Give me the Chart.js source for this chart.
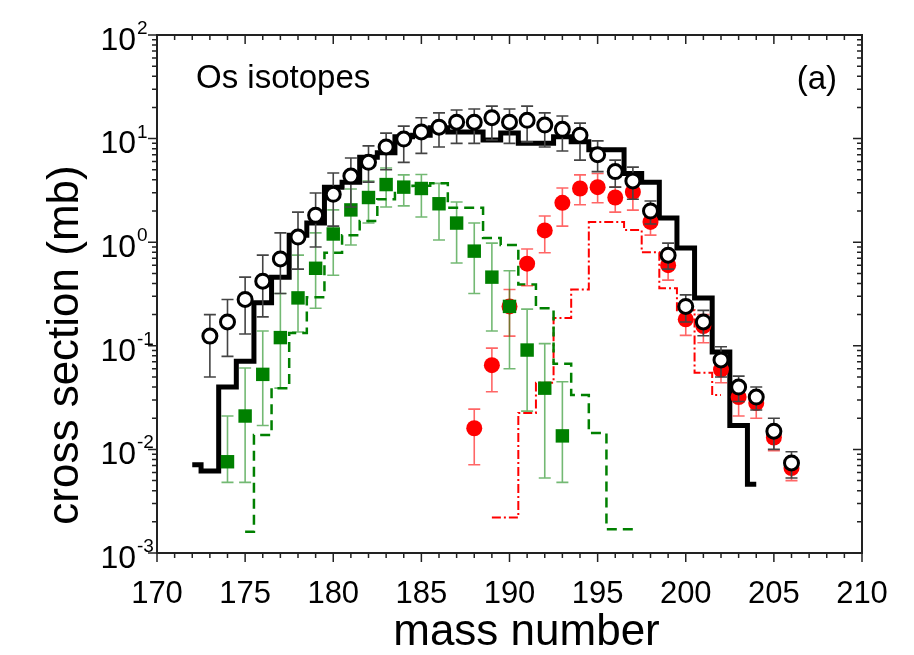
<!DOCTYPE html>
<html>
<head>
<meta charset="utf-8">
<script src="https://cdn.jsdelivr.net/npm/chart.js@4.4.1/dist/chart.umd.min.js"></script>
<style>
html,body{margin:0;padding:0;background:#fff}
#caixa{width:914px;height:655px;position:relative}
</style>
</head>
<body>
<div id="caixa"><canvas id="grafico"></canvas></div>
<script>
const FONTE = "'Liberation Sans', Arial, sans-serif"

// histograma total (linha preta)
const massaHistTotal = [172,173,174,175,176,177,178,179,180,181,182,183,184,185,186,187,188,189,190,191,192,193,194,195,196,197,198,199,200,201,202,203,204]
const histTotal = [0.0071,0.0062,0.040,0.071,0.26,0.46,1.17,1.53,3.4,3.8,6.6,7.3,10.4,10.8,12.7,11.6,11.6,9.7,11.3,9.0,9.0,10.4,9.3,7.8,7.8,4.6,3.8,1.71,0.88,0.29,0.087,0.017,0.0046]

// histograma verde (tracejado)
const massaHistVerde = [175,176,177,178,179,180,181,182,183,184,185,186,187,188,189,190,191,192,193,194,195,196,197]
const histVerde = [0.0016,0.0138,0.039,0.133,0.295,0.79,1.17,1.6,2.6,3.2,3.5,3.7,2.15,2.15,1.1,0.94,0.39,0.23,0.067,0.0335,0.0144,0.0017,0.0017]

// histograma vermelho (traco-ponto)
const massaHistVermelho = [189,190,191,192,193,194,195,196,197,198,199,200,201,202]
const histVermelho = [0.0022,0.0022,0.0225,0.044,0.185,0.35,1.57,1.57,1.31,0.80,0.36,0.22,0.055,0.0335]

// dados experimentais: circulos abertos
const massaTotal = [173,174,175,176,177,178,179,180,181,182,183,184,185,186,187,188,189,190,191,192,193,194,195,196,197,198,199,200,201,202,203,204,205,206]
const secaoTotal = [0.124,0.17,0.28,0.42,0.69,1.12,1.82,2.9,4.35,5.9,8.3,9.9,11.6,12.9,14.4,14.4,15.9,14.4,15.0,13.5,12.3,10.8,7.0,4.8,3.9,2.0,0.75,0.24,0.17,0.073,0.040,0.032,0.015,0.0074]
const totalBaixo = [0.050,0.079,0.13,0.19,0.32,0.55,0.9,1.43,2.19,3.8,5.0,5.9,7.2,8.3,9.0,9.0,9.7,9.0,9.3,8.3,7.6,6.2,4.8,3.4,2.6,1.5,0.55,0.17,0.125,0.05,0.029,0.024,0.010,0.0053]
const totalAlto = [0.20,0.28,0.46,0.75,1.23,1.95,2.98,4.66,6.5,8.5,11.3,13.2,15.9,17.7,18.9,19.3,20.6,19.3,20.6,17.7,16.5,14.1,9.5,6.2,5.3,2.5,0.98,0.31,0.22,0.098,0.051,0.040,0.020,0.0095]

// circulos vermelhos
const massaVermelho = [188,189,190,191,192,193,194,195,196,197,198,199,200,201,202,203,204,205,206]
const secaoVermelho = [0.016,0.065,0.24,0.62,1.3,2.4,3.3,3.4,2.7,3.05,1.57,0.6,0.18,0.155,0.059,0.032,0.028,0.013,0.0066]
const vermelhoBaixo = [0.0071,0.036,0.124,0.38,0.79,1.43,2.3,2.4,1.95,2.04,1.17,0.43,0.126,0.107,0.044,0.021,0.020,0.0097,0.005]
const vermelhoAlto = [0.0245,0.095,0.35,0.86,1.79,3.33,4.47,4.6,3.4,4.0,1.96,0.75,0.23,0.2,0.075,0.043,0.036,0.0165,0.0083]

// quadrados verdes
const massaVerde = [174,175,176,177,178,179,180,181,182,183,184,185,186,187,188,189,190,191,192,193]
const secaoVerde = [0.0076,0.021,0.053,0.12,0.29,0.56,1.2,2.05,2.7,3.6,3.4,3.3,2.35,1.53,0.82,0.46,0.24,0.091,0.039,0.0135]
const verdeBaixo = [0.0048,0.0048,0.017,0.039,0.136,0.23,0.48,0.94,1.53,2.19,2.24,1.75,1.05,0.63,0.32,0.139,0.06,0.0234,0.0053,0.0048]
const verdeAlto = [0.021,0.061,0.139,0.32,0.75,1.23,2.05,3.26,3.9,5.2,4.47,4.5,3.7,2.44,1.53,0.98,0.53,0.226,0.105,0.045]

const expoentesY = [-3,-2,-1,0,1,2]

function pontos(massas, valores){
    return massas.map((a,i) => ({x:a, y:valores[i]}))
}

// barras de erro desenhadas antes dos marcadores de cada serie
const barrasErro = {
    id:'barrasErro',
    beforeDatasetDraw(chart, args){
        const ds = chart.data.datasets[args.index]
        if(!ds.erroBaixo) return
        const x = chart.scales.x
        const y = chart.scales.y
        const ctx = chart.ctx
        ctx.save()
        ctx.strokeStyle = ds.corErro
        ctx.lineWidth = 1.6
        ds.data.forEach((p,i) => {
            const px = x.getPixelForValue(p.x)
            const y1 = y.getPixelForValue(ds.erroBaixo[i])
            const y2 = y.getPixelForValue(ds.erroAlto[i])
            ctx.beginPath()
            ctx.moveTo(px,y1); ctx.lineTo(px,y2)
            ctx.moveTo(px-6,y1); ctx.lineTo(px+6,y1)
            ctx.moveTo(px-6,y2); ctx.lineTo(px+6,y2)
            ctx.stroke()
        })
        ctx.restore()
    }
}

// moldura, marcas e textos
const moldura = {
    id:'moldura',
    afterDraw(chart){
        const {ctx, chartArea:a, scales:{x,y}} = chart
        ctx.save()
        ctx.strokeStyle = '#222'
        ctx.lineWidth = 2
        ctx.strokeRect(a.left, a.top, a.right-a.left, a.bottom-a.top)

        ctx.lineWidth = 1.5
        ctx.beginPath()
        for(let m = x.min; m <= x.max; m++){
            const px = x.getPixelForValue(m)
            const len = m % 5 === 0 ? 9 : 5
            ctx.moveTo(px, a.bottom); ctx.lineTo(px, a.bottom+len)
            ctx.moveTo(px, a.top); ctx.lineTo(px, a.top+len)
        }
        expoentesY.forEach(e => {
            for(let k = 1; k <= 9; k++){
                if(e === expoentesY[expoentesY.length-1] && k > 1) break
                const py = y.getPixelForValue(k*Math.pow(10,e))
                const len = k === 1 ? 9 : 5
                ctx.moveTo(a.left, py); ctx.lineTo(a.left-len, py)
                ctx.moveTo(a.right, py); ctx.lineTo(a.right-len, py)
            }
        })
        ctx.stroke()

        ctx.fillStyle = '#000'
        expoentesY.forEach(e => {
            const py = y.getPixelForValue(Math.pow(10,e))
            ctx.font = `32px ${FONTE}`
            ctx.textAlign = 'right'
            ctx.textBaseline = 'middle'
            ctx.fillText('10', 136, py+6)
            ctx.font = `19px ${FONTE}`
            ctx.textAlign = 'left'
            ctx.textBaseline = 'alphabetic'
            ctx.fillText(String(e), 137, py-1)
        })

        ctx.font = `44px ${FONTE}`
        ctx.textAlign = 'center'
        ctx.textBaseline = 'alphabetic'
        ctx.fillText('mass number', (a.left+a.right)/2 + 17, 645)

        ctx.save()
        ctx.translate(78, 345)
        ctx.rotate(-Math.PI/2)
        ctx.fillText('cross section (mb)', 0, 0)
        ctx.restore()

        ctx.font = `33px ${FONTE}`
        ctx.textAlign = 'left'
        ctx.fillText('Os isotopes', 196, 88)
        ctx.textAlign = 'right'
        ctx.fillText('(a)', 837, 89)
        ctx.restore()
    }
}

const ctx = document.getElementById('grafico')

new Chart(ctx, {
    type:'scatter',
    data:{
        datasets:[
            {
                label:'total exp',
                data:pontos(massaTotal, secaoTotal),
                erroBaixo:totalBaixo, erroAlto:totalAlto, corErro:'#444',
                pointStyle:'circle', pointRadius:7,
                pointBackgroundColor:'#fff', pointBorderColor:'#000', pointBorderWidth:3,
                showLine:false, order:0
            },
            {
                label:'verde exp',
                data:pontos(massaVerde, secaoVerde),
                erroBaixo:verdeBaixo, erroAlto:verdeAlto, corErro:'rgba(0,128,0,0.55)',
                pointStyle:'rect', pointRadius:9.5,
                pointBackgroundColor:'#008000', pointBorderColor:'#008000', pointBorderWidth:0,
                showLine:false, order:1
            },
            {
                label:'vermelho exp',
                data:pontos(massaVermelho, secaoVermelho),
                erroBaixo:vermelhoBaixo, erroAlto:vermelhoAlto, corErro:'rgba(255,0,0,0.6)',
                pointStyle:'circle', pointRadius:8,
                pointBackgroundColor:'#ff0000', pointBorderColor:'#ff0000', pointBorderWidth:0,
                showLine:false, order:2
            },
            {
                label:'total calc',
                data:pontos(massaHistTotal, histTotal),
                showLine:true, stepped:'middle',
                borderColor:'#000', borderWidth:5, pointRadius:0,
                order:3
            },
            {
                label:'verde calc',
                data:pontos(massaHistVerde, histVerde),
                showLine:true, stepped:'middle',
                borderColor:'#008000', borderWidth:2.5, borderDash:[10,6], pointRadius:0,
                order:4
            },
            {
                label:'vermelho calc',
                data:pontos(massaHistVermelho, histVermelho),
                showLine:true, stepped:'middle',
                borderColor:'#ff0000', borderWidth:2, borderDash:[9,3,2,3], pointRadius:0,
                order:5
            }
        ]
    },
    options:{
        responsive:true,
        maintainAspectRatio:false,
        animation:false,
        layout:{padding:{top:35, right:52, left:0, bottom:0}},
        plugins:{legend:{display:false}, tooltip:{enabled:false}},
        scales:{
            x:{
                type:'linear', min:170, max:210,
                grid:{display:false, drawTicks:false},
                border:{display:false},
                ticks:{stepSize:5, maxRotation:0, autoSkip:false, padding:23, color:'#000', font:{family:FONTE, size:31}},
                afterFit(s){ s.height = 102 }
            },
            y:{
                type:'logarithmic', min:0.001, max:100,
                grid:{display:false, drawTicks:false},
                border:{display:false},
                ticks:{display:false},
                afterFit(s){ s.width = 157 }
            }
        }
    },
    plugins:[barrasErro, moldura]
})
</script>
</body>
</html>
